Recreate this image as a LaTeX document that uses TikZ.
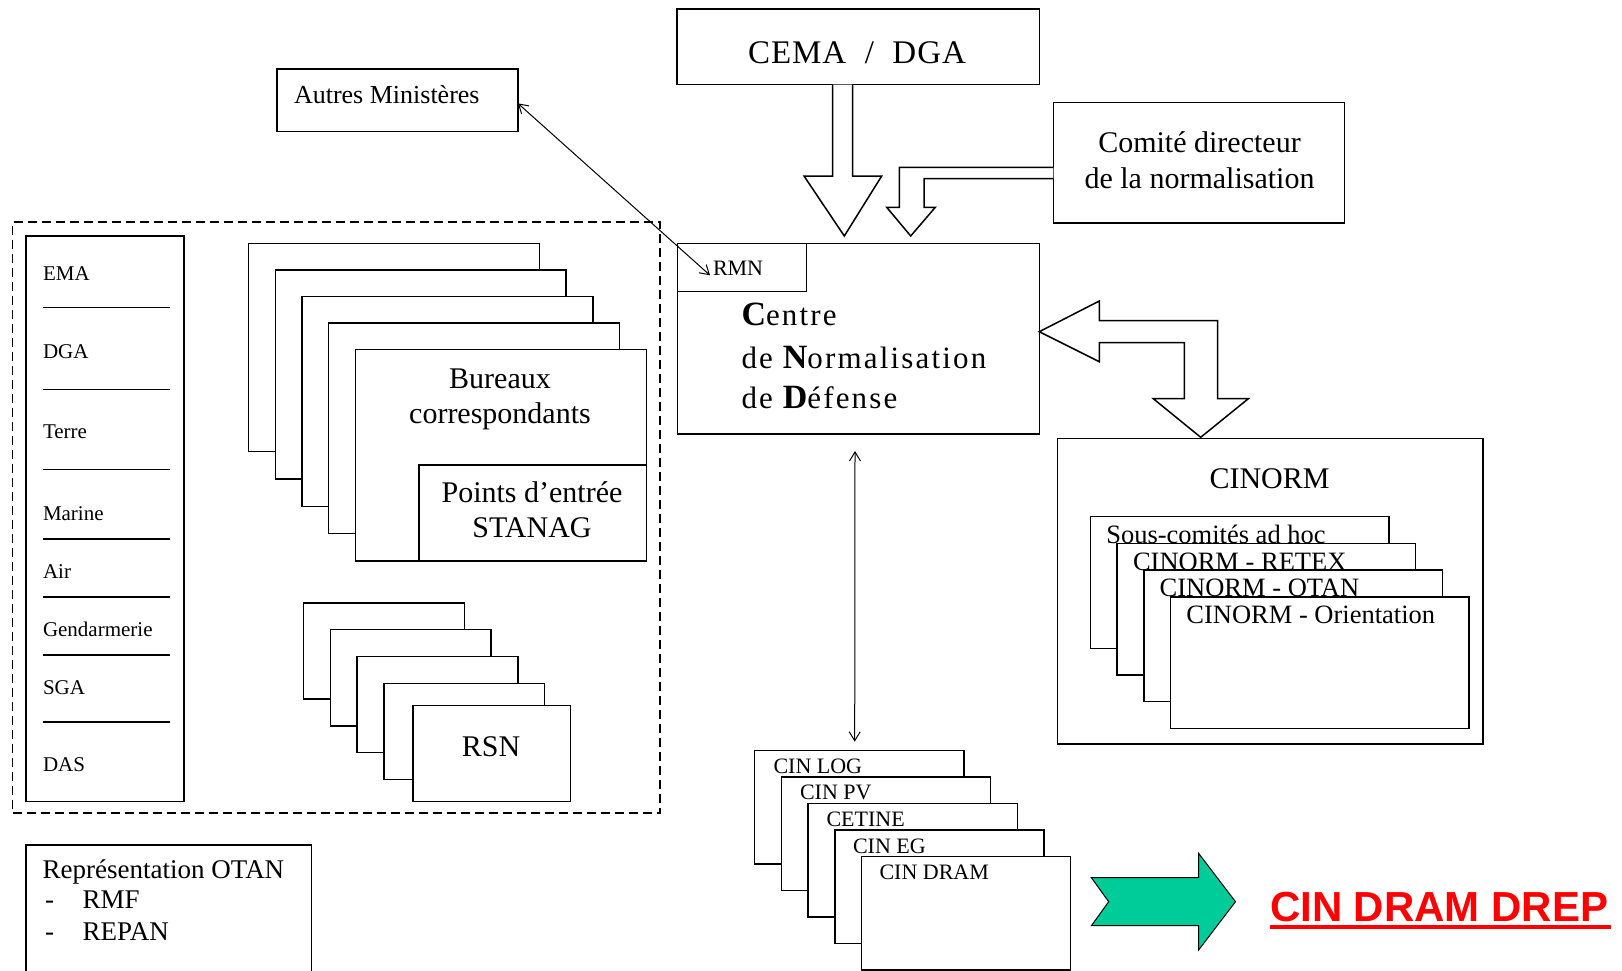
\documentclass[tikz,border=0pt]{standalone}
\usepackage{fontspec}
\setmainfont{Liberation Serif}
\setsansfont{Liberation Sans}
\newfontfamily\spacedfont[LetterSpace=3]{Liberation Serif}
\newfontfamily\widefont[LetterSpace=7]{Liberation Serif}
\usetikzlibrary{arrows.meta,fit}
\newcommand\fsz[1]{\fontsize{#1}{#1}\selectfont}
\definecolor{dgreen}{RGB}{0,204,153}
\tikzset{
  box/.style={draw, line width=1.5pt, fill=white, rectangle, inner sep=0pt, outer sep=0pt},
  lab/.style={inner sep=0pt, outer sep=0pt, font=\fsz{30}},
  dbl/.style={line width=1pt, {Straight Barb[length=9pt,width=11pt]}-{Straight Barb[length=9pt,width=11pt]}},
  blk/.style={draw, line width=1.5pt, fill=white, line join=miter},
  sep/.style={line width=1.5pt},
}
\begin{document}
\begin{tikzpicture}[x=1pt,y=-1pt]
\useasboundingbox (0,0) rectangle (1622,971);
\clip (0,0) rectangle (1622,971);
\fill[white] (0,0) rectangle (1622,971);

% dashed frame
\node[draw, dash pattern=on 9pt off 5pt, line width=1.3pt, inner sep=0pt, outer sep=0pt, fit={(12.5,222) (660,813)}] (frame) {};

% top boxes
\node[box, fit={(677,9) (1039.3,84.7)}] (cema) {};
\node[lab, anchor=base, font=\spacedfont\fsz{33}] (cemat) at (857,63.3) {CEMA\ \ /\ \ DGA};

\node[box, fit={(277,69) (517.9,131.7)}] (am) {};
\node[lab, anchor=base west, font=\fsz{26}] (amt) at (294,104) {Autres Ministères};

\node[box, fit={(1053.3,102.3) (1344.6,223)}] (cd) {};
\node[lab, anchor=base] (cdt1) at (1199.5,153) {Comité directeur};
\node[lab, anchor=base] (cdt2) at (1199.5,188) {de la normalisation};

% CND
\node[box, fit={(677.3,243.3) (1039.3,434)}] (cnd) {};
\node[box, fit={(677.3,243.3) (806.7,291.7)}] (rmn) {};
\node[lab, anchor=base west, font=\fsz{22}] (rmnt) at (713,275.7) {RMN};
\node[lab, anchor=base west, font=\widefont\fsz{31}] (cndt1) at (741.5,325) {{\fsz{34}\bfseries C}entre};
\node[lab, anchor=base west, font=\widefont\fsz{31}] (cndt2) at (741.5,368) {de {\fsz{34}\bfseries N}ormalisation};
\node[lab, anchor=base west, font=\widefont\fsz{31}] (cndt3) at (741.5,408) {de {\fsz{34}\bfseries D}éfense};

% block arrows
\draw[blk] (832.7,84.7) -- (832.7,176) -- (804,176) -- (844.3,236) -- (881.7,176) -- (852.7,176) -- (852.7,84.7);
\draw[blk] (1053.3,167.3) -- (899.3,167.3) -- (899.3,207.3) -- (886.7,207.3) -- (910.7,236) -- (935.3,207.3) -- (924,207.3) -- (924,178.7) -- (1053.3,178.7);
\draw[blk] (1039.3,331.7) -- (1099.3,301) -- (1099.3,320.7) -- (1217.7,320.7) -- (1217.7,398.7) -- (1248.3,398.7) -- (1200.7,437.3) -- (1153.3,398.7) -- (1184.3,398.7) -- (1184.3,342.7) -- (1099.3,342.7) -- (1099.3,361.7) -- cycle;

% list box
\node[box, fit={(26,236) (184,801.6)}] (list) {};
\foreach \y in {307.3,389.3,469.7,539,597,655,722} \draw[sep] (43,\y) -- (170,\y);
\foreach \n/\t/\y in {e/EMA/280,g/DGA/358,t/Terre/438,m/Marine/520,a/Air/578,gd/Gendarmerie/636,s/SGA/694,d/DAS/771.6}
  \node[lab, anchor=base west, font=\fsz{21}] (l\n) at (43,\y) {\t};

% Bureaux stack
\foreach \i in {0,...,4}
  \node[box, fit={({248.6+26.7*\i},{243.3+26.5*\i}) ({539.3+26.75*\i},{451.7+27.3*\i})}] (bur\i) {};
\node[box, fit={(418.75,465) (646.4,561)}] (pts) {};
\node[lab, anchor=base] (burt1) at (500,388) {Bureaux};
\node[lab, anchor=base] (burt2) at (500,423) {correspondants};
\node[lab, anchor=base] (ptst1) at (532,502.5) {Points d’entrée};
\node[lab, anchor=base] (ptst2) at (532,537.7) {STANAG};

% RSN stack
\foreach \i/\xa/\ya/\xb/\yb in {0/303.6/603/464.3/699.2, 1/330.4/629.4/491/726, 2/357/656.7/517.9/752.6, 3/384/683.6/544.6/779.6, 4/413/705.4/570.5/801.6}
  \node[box, fit={(\xa,\ya) (\xb,\yb)}] (rsn\i) {};
\node[lab, anchor=base] (rsnt) at (491,756) {RSN};

% Representation OTAN
\node[box, fit={(26,845) (311.7,990)}] (otan) {};
\node[lab, anchor=base west, font=\fsz{27}] (otant) at (42.7,878.3) {Représentation OTAN};
\node[lab, anchor=base west, font=\fsz{27}] (otand1) at (45,908.3) {-};
\node[lab, anchor=base west, font=\fsz{27}] (otant1) at (82.7,908.3) {RMF};
\node[lab, anchor=base west, font=\fsz{27}] (otand2) at (45,940) {-};
\node[lab, anchor=base west, font=\fsz{27}] (otant2) at (82.7,940) {REPAN};

% CINORM
\node[box, fit={(1057.3,438.3) (1482.9,744)}] (cin) {};
\node[lab, anchor=base] (cint) at (1269.5,488) {CINORM};
\foreach \i/\t in {0/Sous-comités ad hoc, 1/CINORM - RETEX, 2/CINORM - OTAN, 3/CINORM - Orientation} {
  \node[box, fit={({1090.5+26.7*\i},{516.7+26.7*\i}) ({1388.9+26.7*\i},{648.3+26.7*\i})}] (sub\i) {};
  \node[lab, anchor=base west, font=\fsz{26.5}] (subt\i) at ({1106.3+26.7*\i},{543.3+26.7*\i}) {\t};
}

% CIN stack
\foreach \i/\t in {0/CIN LOG, 1/CIN PV, 2/CETINE, 3/CIN EG, 4/CIN DRAM} {
  \node[box, fit={({754.7+26.7*\i},{750.3+26.6*\i}) ({964+26.65*\i},{864+26.5*\i})}] (cl\i) {};
  \node[lab, anchor=base west, font=\fsz{22}] (clt\i) at ({773.5+26.5*\i},{773.3+26.6*\i}) {\t};
}

% thin arrows
\coordinate (amEnd) at ([yshift=-3pt]am.east);
\coordinate (rmnEnd) at ([xshift=32.7pt,yshift=-7.8pt]rmn.west);
\draw[dbl] (amEnd) -- (rmnEnd);
\coordinate (cndEnd) at ([xshift=-3.3pt,yshift=-17pt]cnd.south);
\coordinate (clEnd) at ([xshift=-4.65pt,yshift=8.6pt]cl0.north);
\draw[dbl] (cndEnd) -- (clEnd);

% green arrow and DREP
\draw[fill=dgreen, line width=1pt, line join=miter] (1091.4,877.7) -- (1198.6,877.7) -- (1198.6,853.3) -- (1235.5,901.7) -- (1198.6,950) -- (1198.6,925.7) -- (1091.4,925.7) -- (1108.7,901.7) -- cycle;
\node[lab, anchor=base west, text=red, font=\sffamily\bfseries\fsz{42}] (drep) at (1270,921.7) {CIN DRAM DREP};
\draw[red, line width=4.3pt] ([yshift=-5.5pt]drep.base west) -- ([yshift=-5.5pt,xshift=3pt]drep.base east);
\end{tikzpicture}
\end{document}
